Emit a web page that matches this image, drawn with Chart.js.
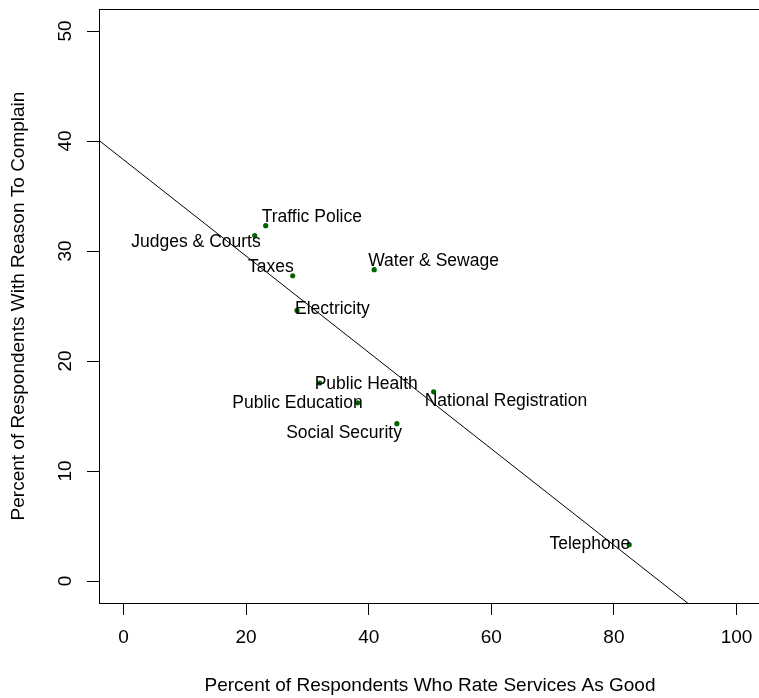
<!DOCTYPE html>
<html><head><meta charset="utf-8">
<script src="https://cdn.jsdelivr.net/npm/chart.js@4/dist/chart.umd.min.js"></script>
<style>html,body{margin:0;padding:0;overflow:hidden;background:#fff;width:759px;height:698px}canvas{display:block}</style>
</head><body>
<canvas id="c" width="765" height="698"></canvas>
<script>
// ---- data ----
const services = ["Traffic Police","Judges & Courts","Taxes","Electricity","Water & Sewage","Public Health","Public Education","Social Security","National Registration","Telephone"];
const pctGood = [23.2, 21.4, 27.6, 28.3, 40.9, 32.0, 38.2, 44.6, 50.6, 82.5];
const pctComplain = [32.3, 31.4, 27.75, 24.6, 28.3, 18.0, 16.2, 14.3, 17.2, 3.3];
const xTicks = [0, 20, 40, 60, 80, 100];
const yTicks = [0, 10, 20, 30, 40, 50];
const fitIntercept = 38.3;
const fitSlope = -0.438;
const xTitle = "Percent of Respondents Who Rate Services As Good";
const yTitle = "Percent of Respondents With Reason To Complain";

// ---- layout (label placement relative to each point, in px) ----
const labelPlacement = [
  {align:'left', dx:-4, dy:-9},
  {align:'right', dx:6, dy:7},
  {align:'right', dx:1, dy:-9},
  {align:'left', dx:-2, dy:-1},
  {align:'left', dx:-6, dy:-9},
  {align:'left', dx:-5, dy:1},
  {align:'right', dx:5, dy:0},
  {align:'right', dx:5, dy:9},
  {align:'left', dx:-9, dy:9},
  {align:'right', dx:1, dy:-1}
];
const X_MIN = -4, X_MAX = 104, Y_MIN = -2, Y_MAX = 52;
const FONT = '"Liberation Sans", Arial, Helvetica, sans-serif';

const labelPlugin = {
  id: 'labels',
  afterDatasetsDraw(chart) {
    const ctx = chart.ctx, xs = chart.scales.x, ys = chart.scales.y;
    ctx.save();
    ctx.font = '17.5px ' + FONT;
    ctx.fillStyle = '#000';
    ctx.textBaseline = 'middle';
    services.forEach((s, i) => {
      const p = labelPlacement[i];
      const px = xs.getPixelForValue(pctGood[i]);
      const py = ys.getPixelForValue(pctComplain[i]);
      ctx.textAlign = p.align;
      ctx.fillText(s, px + p.dx, py + p.dy);
    });
    ctx.restore();
  },
  afterDraw(chart) {
    const a = chart.chartArea, ctx = chart.ctx;
    ctx.save();
    ctx.strokeStyle = '#000';
    ctx.lineWidth = 1;
    ctx.strokeRect(Math.round(a.left) + 0.5, Math.round(a.top) + 0.5, Math.round(a.right - a.left), Math.round(a.bottom - a.top));
    ctx.restore();
  }
};

new Chart(document.getElementById('c'), {
  type: 'scatter',
  data: {
    datasets: [
      {
        data: pctGood.map((x, i) => ({x, y: pctComplain[i]})),
        pointRadius: 2.6,
        pointBackgroundColor: '#006400',
        pointBorderWidth: 0,
        showLine: false
      },
      {
        type: 'line',
        data: [X_MIN, X_MAX].map(x => ({x, y: fitIntercept + fitSlope * x})),
        borderColor: '#000',
        borderWidth: 1,
        pointRadius: 0,
        fill: false
      }
    ]
  },
  options: {
    responsive: false,
    animation: false,
    devicePixelRatio: 1,
    layout: {padding: {left: 0, top: 9, right: 3, bottom: 0}},
    plugins: {legend: {display: false}, tooltip: {enabled: false}},
    scales: {
      x: {
        type: 'linear', min: X_MIN, max: X_MAX,
        afterBuildTicks: s => { s.ticks = xTicks.map(v => ({value: v})); },
        afterFit: s => { s.height = 95; s.paddingLeft = 0; s.paddingRight = 0; },
        border: {display: false},
        grid: {drawOnChartArea: false, drawTicks: true, tickLength: 12, color: '#000', lineWidth: 1},
        ticks: {color: '#000', font: {family: FONT, size: 19}, padding: 11, maxRotation: 0},
        title: {display: true, text: xTitle, color: '#000', font: {family: FONT, size: 19}, padding: {top: 0, bottom: 1}}
      },
      y: {
        type: 'linear', min: Y_MIN, max: Y_MAX,
        afterBuildTicks: s => { s.ticks = yTicks.map(v => ({value: v})); },
        afterFit: s => { s.width = 99; s.paddingTop = 0; s.paddingBottom = 0; },
        border: {display: false},
        grid: {drawOnChartArea: false, drawTicks: true, tickLength: 12, color: '#000', lineWidth: 1},
        ticks: {color: '#000', font: {family: FONT, size: 19}, padding: 11, minRotation: 90, maxRotation: 90, crossAlign: 'center'},
        title: {display: true, text: yTitle, color: '#000', font: {family: FONT, size: 19}, padding: {top: 7, bottom: 0}}
      }
    }
  },
  plugins: [labelPlugin]
});
</script>
</body></html>
